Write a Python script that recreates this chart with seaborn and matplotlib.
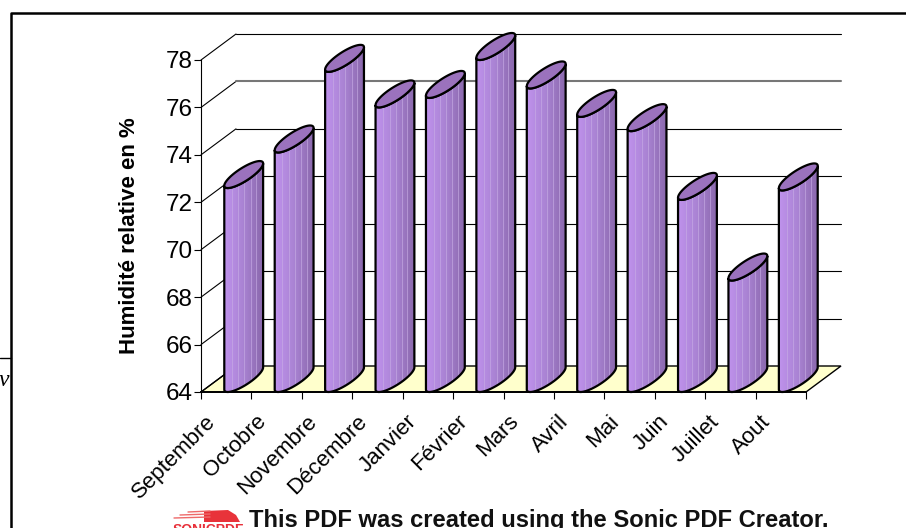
import numpy as np
import pandas as pd
import seaborn as sns
import matplotlib
matplotlib.use('Agg')
import matplotlib.pyplot as plt
from matplotlib.patches import Polygon
from matplotlib.lines import Line2D

months = ['Septembre', 'Octobre', 'Novembre', 'Décembre', 'Janvier', 'Février',
          'Mars', 'Avril', 'Mai', 'Juin', 'Juillet', 'Aout']
humidity = [72.6, 74.1, 77.5, 76.0, 76.4, 78.0, 76.8, 75.6, 75.0, 72.1, 68.7, 72.5]
yticks = [64, 66, 68, 70, 72, 74, 76, 78]

W, H = 906, 528
LEFT, RIGHT, BASE, TOP = 201, 806, 392, 60
DX, DY = 35, 26  # depth of the 3d box, px

sns.set_style('white')
plt.rcParams['font.family'] = ['Liberation Sans', 'DejaVu Sans']
plt.rcParams['text.color'] = 'black'
plt.rcParams['axes.labelcolor'] = 'black'
plt.rcParams['xtick.color'] = 'black'
plt.rcParams['ytick.color'] = 'black'

fig = plt.figure(figsize=(W / 100, H / 100), dpi=100)
ax = fig.add_axes([LEFT / W, 1 - BASE / H, (RIGHT - LEFT) / W, (BASE - TOP) / H])
df = pd.DataFrame({'mois': months, 'hum': humidity})
sns.barplot(data=df, x='mois', y='hum', color='#a680d0', width=0.44, ax=ax)
ax.set_xlim(-0.5, 11.5)
ax.set_ylim(64, 78)

ux = (RIGHT - LEFT) / 12
uy = (BASE - TOP) / 14


def px(dx, dy):
    # pixel offsets to data units
    return dx / ux, dy / uy


ddx, ddy = px(DX, DY)
x0, x1 = ax.get_xlim()
bars = list(ax.patches)
# floor
ax.add_patch(Polygon([(x0, 64), (x1, 64), (x1 + ddx, 64 + ddy), (x0 + ddx, 64 + ddy)],
                     fc='#ffffcc', ec='black', lw=1.0, clip_on=False, zorder=1))
# walls
for t in yticks:
    c = '#777777' if t == 76 else 'black'
    lw = 1.5 if t == 76 else 0.8
    ax.add_line(Line2D([x0, x0 + ddx], [t, t + ddy], color='black', lw=0.8, clip_on=False, zorder=1))
    if t > 64:
        ax.add_line(Line2D([x0 + ddx, x1 + ddx], [t + ddy, t + ddy], color=c, lw=lw, clip_on=False, zorder=1))

A, B, R = 11.0, 16.0, 13.5
tt = np.linspace(0, 2 * np.pi, 73)


def disc(cx, cy):
    ex, ey = px(A * np.cos(tt) + B * np.sin(tt), R * np.sin(tt))
    return cx + ex, cy + ey


cyl = matplotlib.colors.LinearSegmentedColormap.from_list('cyl', ['#bf92ec', '#a983d3', '#8a68ac'])
for bar in bars:
    cx = bar.get_x() + bar.get_width() / 2 + px(17.5, 0)[0]
    val = bar.get_height()
    bar.set_visible(False)
    dy = px(0, R)[1]
    ex, ey = disc(cx, val + dy)
    t_r = np.arctan2(B, A)
    # silhouette: right side of top disc down, lower half of the bottom disc
    lo = np.linspace(t_r - np.pi, t_r, 37)
    lx, ly = px(A * np.cos(lo) + B * np.sin(lo), R * np.sin(lo))
    top_l, top_r = cx + lx[0], cx + lx[-1]
    sil = np.r_[np.c_[cx + lx, 64 + dy + ly], np.c_[(cx + lx)[::-1], val + dy + ly[::-1]]]
    clip = Polygon(sil, transform=ax.transData, fc='none', ec='none', clip_on=False)
    ax.add_patch(clip)
    im = ax.imshow(np.linspace(0, 1, 64).reshape(1, -1), extent=[top_l, top_r, 64, val + 2 * dy],
                   cmap=cyl, aspect='auto', zorder=3)
    im.set_clip_path(clip)
    im.set_clip_box(fig.bbox)  # cylinders stick out of the axes
    for f in [0.2, 0.36, 0.52, 0.68, 0.82]:
        xs = top_l + f * (top_r - top_l)
        ln = ax.add_line(Line2D([xs, xs], [64, val + 2 * dy], color='#c9aee6', lw=0.6, alpha=0.7, zorder=3.5))
        ln.set_clip_path(clip)
        ln.set_clip_box(fig.bbox)
    ax.add_patch(Polygon(sil, fc='none', ec='black', lw=1.6, clip_on=False, zorder=4))
    ax.add_patch(Polygon(np.c_[ex, ey], fc='#9b72bd', ec='black', lw=1.6, clip_on=False, zorder=5))

ax.set_xlim(x0, x1)
ax.set_ylim(64, 78)

ax.set_xticks(np.arange(-0.5, 12, 1))
ax.set_xticklabels([])
for i, m in enumerate(months):
    ax.annotate(m, (i - 0.5, 64), xytext=(4, -19), textcoords='offset pixels', rotation=45,
                ha='right', va='top', rotation_mode='anchor', fontsize=16)
ax.set_yticks(yticks)
ax.tick_params(axis='y', length=5, width=0.8, direction='out', left=True, labelsize=17.5, pad=1)
ax.tick_params(axis='x', length=5, width=0.8, direction='out', bottom=True)
ax.set_ylabel('Humidité relative en %', fontsize=16, fontweight='bold')
ax.yaxis.set_label_coords(-0.1005, 0.47)
ax.set_xlabel('')
ax.patch.set_alpha(0)
sns.despine(ax=ax, top=True, right=True, bottom=False)
ax.spines['left'].set_color('black')
ax.spines['left'].set_linewidth(0.8)
ax.spines['bottom'].set_color('black')
ax.spines['bottom'].set_linewidth(1.4)
ax.spines['bottom'].set_zorder(6)

# page furniture around the chart
page = fig.add_axes([0, 0, 1, 1], zorder=-1)
page.set_xlim(0, W)
page.set_ylim(H, 0)
page.axis('off')
page.plot([11, 11, 906], [528, 13, 13], color='black', lw=1.8)
page.plot([0, 11], [358, 358], color='black', lw=1.0)
page.text(-1, 381, 'v', fontsize=17, style='italic', family='Liberation Serif', va='center')
page.text(249, 520, 'This PDF was created using the Sonic PDF Creator.', fontsize=17.1,
          fontweight='bold', va='center', color='#111111')
# logo
page.fill([204, 228, 236, 240, 240, 204], [511, 510, 515, 522, 528, 528], color='#e8333a', lw=0)
for x_a, y_a in [(188, 512), (180, 515), (174, 518)]:
    page.plot([x_a, 210], [y_a, y_a - 1], color='#ee6a6a', lw=1.0)
page.text(208, 530, 'SONICPDF', fontsize=10, fontweight='bold', color='#e8303a', ha='center', va='center',
          bbox=dict(fc='white', ec='none', pad=1))

fig.savefig('out.png', dpi=100)
